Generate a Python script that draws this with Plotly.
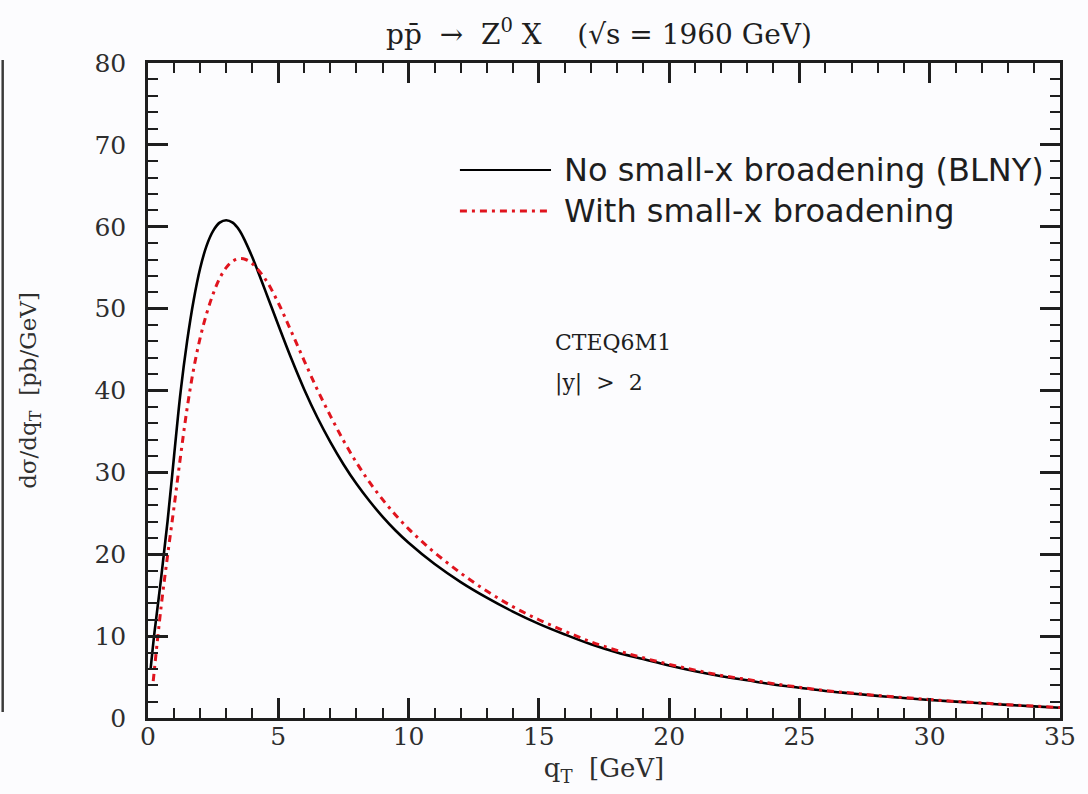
import plotly.graph_objects as go

# ---- data ----
q_blny = [0.1, 0.25, 0.5, 0.75, 1.0, 1.25, 1.5, 1.75, 2.0, 2.25, 2.5, 2.75, 3.0, 3.25, 3.5,
          3.75, 4.0, 4.25, 4.5, 4.75, 5.0, 5.5, 6.0, 6.5, 7.0, 7.5, 8.0, 8.5, 9.0, 9.5, 10,
          11, 12, 13, 14, 15, 16, 17, 18, 19, 20, 21, 22, 23, 24, 25, 26, 27, 28, 29, 30,
          31, 32, 33, 34, 35]
sig_blny = [6.0, 10.5, 17.0, 24.0, 32.0, 39.8, 46.0, 51.0, 54.9, 57.7, 59.5, 60.5, 60.8, 60.5, 59.6,
            58.1, 56.3, 54.3, 52.2, 50.1, 48.0, 43.9, 40.1, 36.7, 33.7, 31.0, 28.6, 26.5, 24.6, 22.9, 21.4,
            18.8, 16.6, 14.7, 13.0, 11.5, 10.2, 9.0, 8.0, 7.2, 6.4, 5.7, 5.1, 4.6, 4.1, 3.7, 3.3, 3.0, 2.7, 2.45, 2.2,
            2.0, 1.8, 1.6, 1.42, 1.25]

q_broad = [0.2, 0.5, 0.75, 1.0, 1.25, 1.5, 1.75, 2.0, 2.25, 2.5, 2.75, 3.0, 3.25, 3.5, 3.75,
           4.0, 4.5, 5.0, 5.5, 6.0, 6.5, 7.0, 7.5, 8.0, 8.5, 9.0, 9.5, 10, 10.5, 11,
           12, 13, 14, 15, 16, 17, 18, 19, 20, 21, 22, 23, 24, 25, 26, 27, 28, 29, 30,
           31, 32, 33, 34, 35]
sig_broad = [4.5, 13.5, 19.8, 25.8, 32.0, 37.8, 42.6, 46.4, 49.4, 51.8, 53.7, 55.0, 55.8, 56.1, 56.0,
             55.5, 53.6, 50.7, 47.2, 43.6, 40.1, 36.9, 33.9, 31.2, 28.8, 26.7, 24.8, 23.1, 21.6, 20.2,
             17.7, 15.5, 13.6, 12.0, 10.6, 9.3, 8.25, 7.35, 6.55, 5.85, 5.2, 4.7, 4.2, 3.75, 3.35, 3.05, 2.75, 2.5, 2.25,
             2.03, 1.83, 1.63, 1.45, 1.28]

legend_labels = ["No small-x broadening (BLNY)", "With small-x broadening"]
x_ticks = [0, 5, 10, 15, 20, 25, 30, 35]
y_ticks = [0, 10, 20, 30, 40, 50, 60, 70, 80]

SERIF = "DejaVu Serif"
SANS = "DejaVu Sans"
INK = "#1e1e1e"
TXT = "#2e2e2e"
RED = "#e0141e"
RED_DASH = "7px,5px,3px,5px"

fig = go.Figure()
fig.add_trace(go.Scatter(x=q_blny, y=sig_blny, mode="lines", name=legend_labels[0],
                         line=dict(color="black", width=2.6, shape="spline", smoothing=1.0)))
fig.add_trace(go.Scatter(x=q_broad, y=sig_broad, mode="lines", name=legend_labels[1],
                         line=dict(color=RED, width=3, dash=RED_DASH, shape="spline", smoothing=1.0)))

L, R, T, B = 148, 19, 63, 76
W, H = 1088, 794
pw, ph = W - L - R, H - T - B

def px(x):
    return (x - L) / pw

def py(y):
    return (H - B - y) / ph

axis_common = dict(
    showline=True, linecolor=INK, linewidth=2.5, mirror="ticks",
    ticks="inside", ticklen=20, tickwidth=2.5, tickcolor=INK,
    showgrid=False, zeroline=False,
    tickfont=dict(family=SERIF, size=25, color=TXT),
)

fig.update_xaxes(range=[0, 35], tickvals=x_ticks, ticktext=[str(v) for v in x_ticks],
                 minor=dict(dtick=1, ticks="inside", ticklen=10, tickwidth=1.6, tickcolor=INK, showgrid=False),
                 ticklabelstandoff=-6,
                 title=dict(text="q<sub>T</sub>\u00a0\u00a0[GeV]", font=dict(family=SERIF, size=26, color=TXT),
                            standoff=10),
                 **axis_common)
fig.update_yaxes(range=[0, 80], tickvals=y_ticks, ticktext=[str(v) for v in y_ticks],
                 minor=dict(dtick=2, ticks="inside", ticklen=10, tickwidth=1.6, tickcolor=INK, showgrid=False),
                 ticklabelstandoff=14,
                 title=dict(text="d\u03c3/dq<sub>T</sub>\u00a0\u00a0[pb/GeV]", font=dict(family=SERIF, size=23, color=TXT),
                            standoff=52),
                 **axis_common)

# legend drawn as sample lines + text
fig.add_shape(type="line", xref="paper", yref="paper", x0=px(463), x1=px(555), y0=py(170), y1=py(170),
              line=dict(color="black", width=2))
fig.add_shape(type="line", xref="paper", yref="paper", x0=px(463), x1=px(555), y0=py(211), y1=py(211),
              line=dict(color=RED, width=3, dash=RED_DASH))
fig.add_annotation(xref="paper", yref="paper", x=px(566), y=py(170), text=legend_labels[0], showarrow=False,
                   xanchor="left", yanchor="middle", font=dict(family=SANS, size=32, color="#1e1e1e"))
fig.add_annotation(xref="paper", yref="paper", x=px(566), y=py(211), text=legend_labels[1], showarrow=False,
                   xanchor="left", yanchor="middle", font=dict(family=SANS, size=32, color="#1e1e1e"))

# text labels
fig.add_annotation(xref="paper", yref="paper", x=px(557), y=py(342), text="CTEQ6M1", showarrow=False,
                   xanchor="left", yanchor="middle", font=dict(family=SERIF, size=22, color="#1e1e1e"))
fig.add_annotation(xref="paper", yref="paper", x=px(557), y=py(383), text="|y|\u00a0\u00a0>\u00a0\u00a02", showarrow=False,
                   xanchor="left", yanchor="middle", font=dict(family=SERIF, size=22, color="#1e1e1e"))

# title
fig.add_annotation(xref="paper", yref="paper", x=px(603), y=py(33),
                   text="pp\u0304\u00a0\u00a0\u2192\u00a0\u00a0Z<sup>0</sup>\u00a0X\u00a0\u00a0\u00a0\u00a0(\u221as\u00a0=\u00a01960\u00a0GeV)",
                   showarrow=False, xanchor="center", yanchor="middle",
                   font=dict(family=SERIF, size=28, color="#1e1e1e"))

# dark edge bar at far left of the picture
fig.add_shape(type="rect", xref="paper", yref="paper", x0=px(0), x1=px(2.5), y0=py(712), y1=py(60),
              line=dict(width=0), fillcolor="#3a3a3a")

fig.update_layout(
    width=W, height=H, margin=dict(l=L, r=R, t=T, b=B),
    paper_bgcolor="#fcfcfe", plot_bgcolor="#fcfcfe",
    showlegend=False,
)

fig.write_html("out.html")
